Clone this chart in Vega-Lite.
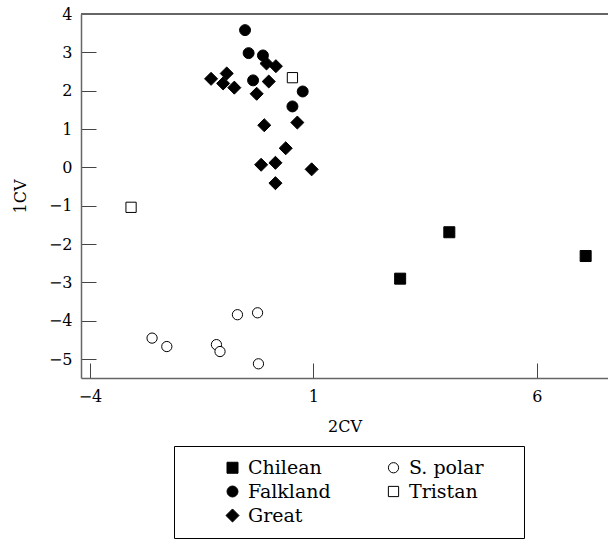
{
  "$schema": "https://vega.github.io/schema/vega-lite/v6.json",
  "autosize": "none",
  "width": 527,
  "height": 364,
  "padding": {"left": 81, "top": 14, "right": 0, "bottom": 163},
  "background": "white",
  "config": {
    "font": "DejaVu Serif",
    "view": {"stroke": null},
    "axis": {
      "grid": false,
      "labelFont": "DejaVu Serif",
      "labelFontSize": 16,
      "labelColor": "black",
      "titleFont": "DejaVu Serif",
      "titleFontSize": 16,
      "titleFontWeight": "normal",
      "titleColor": "black",
      "domainColor": "#666",
      "domainWidth": 1.5,
      "tickColor": "#444",
      "tickWidth": 1,
      "tickSize": -15
    },
    "legend": {
      "labelFont": "DejaVu Serif", "labelFontSize": 19, "labelColor": "black"
    }
  },
  "data": {
    "values": [
      {"x": 2.94, "y": -2.90, "group": "Chilean"},
      {"x": 4.04, "y": -1.69, "group": "Chilean"},
      {"x": 7.09, "y": -2.31, "group": "Chilean"},
      {"x": -0.53, "y": 3.58, "group": "Falkland"},
      {"x": -0.45, "y": 2.98, "group": "Falkland"},
      {"x": -0.13, "y": 2.92, "group": "Falkland"},
      {"x": -0.35, "y": 2.27, "group": "Falkland"},
      {"x": 0.53, "y": 1.59, "group": "Falkland"},
      {"x": 0.76, "y": 1.98, "group": "Falkland"},
      {"x": -1.29, "y": 2.31, "group": "Great"},
      {"x": -0.94, "y": 2.45, "group": "Great"},
      {"x": -1.02, "y": 2.19, "group": "Great"},
      {"x": -0.77, "y": 2.08, "group": "Great"},
      {"x": -0.27, "y": 1.92, "group": "Great"},
      {"x": 0.0, "y": 2.24, "group": "Great"},
      {"x": -0.05, "y": 2.71, "group": "Great"},
      {"x": 0.16, "y": 2.64, "group": "Great"},
      {"x": -0.10, "y": 1.10, "group": "Great"},
      {"x": 0.64, "y": 1.17, "group": "Great"},
      {"x": 0.38, "y": 0.50, "group": "Great"},
      {"x": -0.17, "y": 0.07, "group": "Great"},
      {"x": 0.15, "y": 0.12, "group": "Great"},
      {"x": 0.15, "y": -0.41, "group": "Great"},
      {"x": 0.96, "y": -0.05, "group": "Great"},
      {"x": 0.53, "y": 2.34, "group": "Tristan"},
      {"x": -3.08, "y": -1.04, "group": "Tristan"},
      {"x": -2.61, "y": -4.45, "group": "S. polar"},
      {"x": -2.28, "y": -4.67, "group": "S. polar"},
      {"x": -1.17, "y": -4.62, "group": "S. polar"},
      {"x": -1.09, "y": -4.80, "group": "S. polar"},
      {"x": -0.70, "y": -3.84, "group": "S. polar"},
      {"x": -0.25, "y": -3.79, "group": "S. polar"},
      {"x": -0.23, "y": -5.12, "group": "S. polar"}
    ]
  },
  "layer": [
    {
      "mark": {"type": "rule", "color": "#666", "strokeWidth": 1.5},
      "encoding": {"y": {"datum": 4, "type": "quantitative"}}
    },
    {
      "mark": {"type": "point", "filled": false, "stroke": "black", "strokeWidth": 1, "opacity": 1},
      "encoding": {
        "x": {
          "field": "x", "type": "quantitative",
          "scale": {"domain": [-4.2, 7.59], "nice": false, "zero": false},
          "axis": {"values": [-4, 1, 6], "title": "2CV", "labelPadding": 25, "titlePadding": 14, "labelFlush": false}
        },
        "y": {
          "field": "y", "type": "quantitative",
          "scale": {"domain": [-5.49, 4], "nice": false, "zero": false},
          "axis": {"values": [-5, -4, -3, -2, -1, 0, 1, 2, 3, 4], "title": "1CV", "labelPadding": 24, "titlePadding": 20, "labelFlush": false}
        },
        "shape": {
          "field": "group", "type": "nominal", "title": null,
          "scale": {"domain": ["Chilean", "Falkland", "Great", "S. polar", "Tristan"], "range": ["square", "circle", "diamond", "circle", "square"]},
          "legend": {
            "orient": "none", "legendX": 93, "legendY": 432,
            "columns": 2, "direction": "vertical",
            "padding": 12, "strokeColor": "black", "fillColor": "white",
            "labelFont": "DejaVu Serif", "labelFontSize": 19, "labelColor": "black",
            "labelExpr": "(datum.label == 'S. polar' || datum.label == 'Tristan') ? datum.label + '\u2800\u2800' : datum.label",
            "symbolStrokeColor": "black", "symbolStrokeWidth": 1,
            "symbolOffset": 37, "labelOffset": 6,
            "rowPadding": 4, "columnPadding": 16,
            "encode": {
              "symbols": {"update": {"stroke": {"value": "black"}, "strokeWidth": {"value": 1}}},
              "labels": {"update": {"font": {"value": "DejaVu Serif"}, "fontSize": {"value": 19}}}
            }
          }
        },
        "fill": {
          "field": "group", "type": "nominal", "title": null,
          "scale": {"domain": ["Chilean", "Falkland", "Great", "S. polar", "Tristan"], "range": ["black", "black", "black", "white", "white"]}
        },
        "size": {
          "field": "group", "type": "nominal", "title": null,
          "scale": {"type": "ordinal", "domain": ["Chilean", "Falkland", "Great", "S. polar", "Tristan"], "range": [121, 120, 170, 105, 105]}
        }
      }
    }
  ]
}
